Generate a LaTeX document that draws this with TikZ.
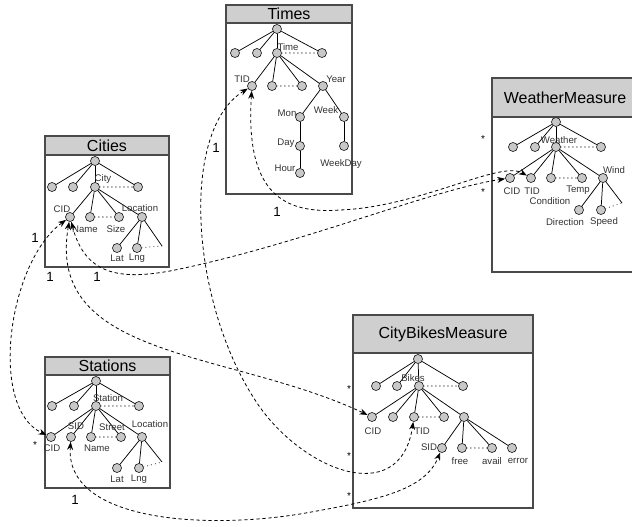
\documentclass[tikz,border=0pt]{standalone}
\usepackage{fontspec}
\setmainfont{Liberation Sans}
\usetikzlibrary{arrows.meta}
\definecolor{boxline}{HTML}{4A4A4A}
\definecolor{headfill}{HTML}{CFCFCF}
\definecolor{nodefill}{HTML}{C8C8C8}
\definecolor{labelgray}{HTML}{333333}
\begin{document}
\begin{tikzpicture}[x=0.75pt,y=-0.75pt,
  tn/.style={circle,draw=black!85,fill=nodefill,line width=0.5pt,minimum size=6.8pt,inner sep=0pt},
  edge/.style={line width=0.55pt},
  more/.style={line width=0.9pt,dash pattern=on 0.01pt off 3pt,line cap=round,black!70},
  lbl/.style={font=\fontsize{7.2}{8}\selectfont,text=labelgray,inner sep=0pt},
  card/.style={font=\fontsize{10}{12}\selectfont,inner sep=0pt},
  star/.style={font=\fontsize{7.5}{8}\selectfont,inner sep=0pt},
  title/.style={font=\fontsize{12}{14}\selectfont,inner sep=0pt},
  frame/.style={draw=boxline,fill=white,line width=0.9pt},
  head/.style={draw=boxline,fill=headfill,line width=0.9pt},
  link/.style={line width=0.6pt,dash pattern=on 2.5pt off 2pt,
    {Stealth[length=6pt,width=4.5pt]}-{Stealth[length=6pt,width=4.5pt]}},
]
\useasboundingbox (0,0) rectangle (632,527);
\fill[white] (0,0) rectangle (632,527);

% ---------- container boxes ----------
% Times
\draw[frame] (226,5) rectangle (352,194);
\draw[head] (226,5) rectangle (352,23);
\node[title] (timesT) at (289,14) {Times};
% Cities
\draw[frame] (45,136) rectangle (169,267);
\draw[head] (45,136) rectangle (169,155);
\node[title] (citiesT) at (107,145.5) {Cities};
% Stations
\draw[frame] (45,357) rectangle (170,488);
\draw[head] (45,357) rectangle (170,375);
\node[title] (stationsT) at (107.5,366) {Stations};
% WeatherMeasure
\draw[frame] (492,78) rectangle (640,272);
\draw[head] (492,78) rectangle (640,117);
\node[title] (weatherT) at (565,97.5) {WeatherMeasure};
% CityBikesMeasure
\draw[frame] (353,315) rectangle (533,508);
\draw[head] (353,315) rectangle (533,353);
\node[title] (bikesT) at (443,334) {CityBikesMeasure};

% ---------- Times tree ----------
\node[tn] (t0) at (277,29) {};
\node[tn] (t1) at (235,53) {};
\node[tn] (t2) at (257,53) {};
\node[tn] (tTime) at (277,53) {};
\node[tn] (t4) at (322,53) {};
\node[tn] (tTID) at (252,86) {};
\node[tn] (t6) at (272,86) {};
\node[tn] (t7) at (302,86) {};
\node[tn] (tYear) at (323,86) {};
\node[tn] (tMon) at (300,117) {};
\node[tn] (tWeek) at (344,117) {};
\node[tn] (tDay) at (300,146) {};
\node[tn] (tWD) at (344,146) {};
\node[tn] (tHour) at (300,173) {};
\foreach \a/\b in {t0/t1,t0/t2,t0/tTime,t0/t4,tTime/tTID,tTime/t6,tTime/t7,tTime/tYear,
  tYear/tMon,tYear/tWeek,tMon/tDay,tDay/tHour,tWeek/tWD}
  \draw[edge] (\a) -- (\b);
\draw[more] (tTime) -- (t4);
\draw[more] (t6) -- (t7);
\node[lbl] (lTime) at (288,47) {Time};
\node[lbl] (lTID) at (242,79) {TID};
\node[lbl] (lYear) at (336,79) {Year};
\node[lbl] (lMon) at (287,113) {Mon};
\node[lbl] (lWeek) at (326,110) {Week};
\node[lbl] (lDay) at (286,143) {Day};
\node[lbl] (lHour) at (285,168) {Hour};
\node[lbl] (lWD) at (341,164) {WeekDay};

% ---------- Cities tree ----------
\node[tn] (c0) at (95,161) {};
\node[tn] (c1) at (52,187) {};
\node[tn] (c2) at (73,187) {};
\node[tn] (cCity) at (95,187) {};
\node[tn] (c4) at (138,187) {};
\node[tn] (cCID) at (70,217) {};
\node[tn] (cName) at (90,217) {};
\node[tn] (cSize) at (119,217) {};
\node[tn] (cLoc) at (142,217) {};
\node[tn] (cLat) at (117,248) {};
\node[tn] (cLng) at (137,248) {};
\coordinate (cMore) at (162,246);
\foreach \a/\b in {c0/c1,c0/c2,c0/cCity,c0/c4,cCity/cCID,cCity/cName,cCity/cSize,cCity/cLoc,
  cLoc/cLat,cLoc/cLng}
  \draw[edge] (\a) -- (\b);
\draw[edge] (cLoc) -- (cMore);
\draw[more] (cCity) -- (c4);
\draw[more] (cName) -- (cSize);
\draw[more] (cLng) -- (cMore);
\node[lbl] (lCity) at (103,179) {City};
\node[lbl] (lcCID) at (62,209) {CID};
\node[lbl] (lcName) at (85,229) {Name};
\node[lbl] (lcSize) at (116,229) {Size};
\node[lbl] (lcLoc) at (140,208) {Location};
\node[lbl] (lcLat) at (117,258) {Lat};
\node[lbl] (lcLng) at (137,258) {Lng};

% ---------- Stations tree ----------
\node[tn] (s0) at (96,381) {};
\node[tn] (s1) at (52,406) {};
\node[tn] (s2) at (74,406) {};
\node[tn] (sSt) at (96,406) {};
\node[tn] (s4) at (139,406) {};
\node[tn] (sCID) at (51,437) {};
\node[tn] (sSID) at (71,437) {};
\node[tn] (sName) at (91,437) {};
\node[tn] (sStreet) at (121,437) {};
\node[tn] (sLoc) at (142,437) {};
\node[tn] (sLat) at (117,468) {};
\node[tn] (sLng) at (139,468) {};
\coordinate (sMore) at (162,462);
\foreach \a/\b in {s0/s1,s0/s2,s0/sSt,s0/s4,sSt/sCID,sSt/sSID,sSt/sName,sSt/sStreet,sSt/sLoc,
  sLoc/sLat,sLoc/sLng}
  \draw[edge] (\a) -- (\b);
\draw[edge] (sLoc) -- (sMore);
\draw[more] (sSt) -- (s4);
\draw[more] (sName) -- (sStreet);
\draw[more] (sLng) -- (sMore);
\node[lbl] (lSt) at (108,398) {Station};
\node[lbl] (lsCID) at (52,448) {CID};
\node[lbl] (lsSID) at (76,426) {SID};
\node[lbl] (lsName) at (97,448) {Name};
\node[lbl] (lsStreet) at (112,427) {Street};
\node[lbl] (lsLoc) at (150,424) {Location};
\node[lbl] (lsLat) at (117,479) {Lat};
\node[lbl] (lsLng) at (139,479) {Lng};

% ---------- WeatherMeasure tree ----------
\node[tn] (w0) at (556,122) {};
\node[tn] (w1) at (513,147) {};
\node[tn] (w2) at (535,147) {};
\node[tn] (wW) at (556,147) {};
\node[tn] (w4) at (601,147) {};
\node[tn] (wCID) at (510,178) {};
\node[tn] (wTID) at (531,178) {};
\node[tn] (wCond) at (551,178) {};
\node[tn] (wTemp) at (582,178) {};
\node[tn] (wWind) at (603,178) {};
\node[tn] (wDir) at (579,210) {};
\node[tn] (wSpd) at (601,210) {};
\coordinate (wMore) at (622,203);
\foreach \a/\b in {w0/w1,w0/w2,w0/wW,w0/w4,wW/wCID,wW/wTID,wW/wCond,wW/wTemp,wW/wWind,
  wWind/wDir,wWind/wSpd}
  \draw[edge] (\a) -- (\b);
\draw[edge] (wWind) -- (wMore);
\draw[more] (wW) -- (w4);
\draw[more] (wCond) -- (wTemp);
\draw[more] (wSpd) -- (wMore);
\node[lbl] (lW) at (559,140) {Weather};
\node[lbl] (lwCID) at (512,191) {CID};
\node[lbl] (lwTID) at (532,191) {TID};
\node[lbl] (lwCond) at (550,201) {Condition};
\node[lbl] (lwTemp) at (578,190) {Temp};
\node[lbl] (lwWind) at (614,170) {Wind};
\node[lbl] (lwDir) at (565,222) {Direction};
\node[lbl] (lwSpd) at (604,222) {Speed};

% ---------- CityBikesMeasure tree ----------
\node[tn] (b0) at (418,359) {};
\node[tn] (b1) at (376,386) {};
\node[tn] (b2) at (397,386) {};
\node[tn] (bB) at (419,386) {};
\node[tn] (b4) at (463,386) {};
\node[tn] (bCID) at (372,417) {};
\node[tn] (b6) at (393,417) {};
\node[tn] (bTID) at (414,417) {};
\node[tn] (b8) at (444,417) {};
\node[tn] (bM) at (464,417) {};
\node[tn] (bSID) at (442,448) {};
\node[tn] (bFree) at (462,448) {};
\node[tn] (bAvail) at (492,448) {};
\node[tn] (bErr) at (512,448) {};
\foreach \a/\b in {b0/b1,b0/b2,b0/bB,b0/b4,bB/bCID,bB/b6,bB/bTID,bB/b8,bB/bM,
  bM/bSID,bM/bFree,bM/bAvail,bM/bErr}
  \draw[edge] (\a) -- (\b);
\draw[more] (bB) -- (b4);
\draw[more] (bTID) -- (b8);
\draw[more] (bFree) -- (bAvail);
\node[lbl] (lB) at (413,378) {Bikes};
\node[lbl] (lbCID) at (373,431) {CID};
\node[lbl] (lbTID) at (422,431) {TID};
\node[lbl] (lbSID) at (429,447) {SID};
\node[lbl] (lbFree) at (460,461) {free};
\node[lbl] (lbAvail) at (492,461) {avail};
\node[lbl] (lbErr) at (518,461) {error};

% ---------- references between cubes ----------
\draw[link] (cCID) .. controls (8,262) and (-12,408) .. (sCID);
\draw[link] (cCID) .. controls (45,360) and (230,350) .. (bCID);
\draw[link] (cCID) .. controls (85,275) and (120,280) .. (170,271)
                   .. controls (300,245) and (430,190) .. (wCID);
\draw[link] (tTID) .. controls (245,195) and (285,214) .. (340,210)
                   .. controls (420,207) and (500,160) .. (wTID);
\draw[link] (tTID) .. controls (180,130) and (190,300) .. (255,400)
                   .. controls (300,470) and (400,510) .. (bTID);
\draw[link] (sSID) .. controls (65,520) and (200,530) .. (300,514)
                   .. controls (380,500) and (425,490) .. (bSID);

% ---------- multiplicities ----------
\node[card] (m1) at (216,148) {1};
\node[card] (m2) at (277,212) {1};
\node[card] (m3) at (35,238) {1};
\node[card] (m4) at (50,277) {1};
\node[card] (m5) at (97,277) {1};
\node[card] (m6) at (75,500) {1};
\node[star] (n1) at (35,445) {*};
\node[star] (n2) at (483,139) {*};
\node[star] (n3) at (483,192) {*};
\node[star] (n4) at (349,389) {*};
\node[star] (n5) at (349,456) {*};
\node[star] (n6) at (349,496) {*};
\end{tikzpicture}
\end{document}
